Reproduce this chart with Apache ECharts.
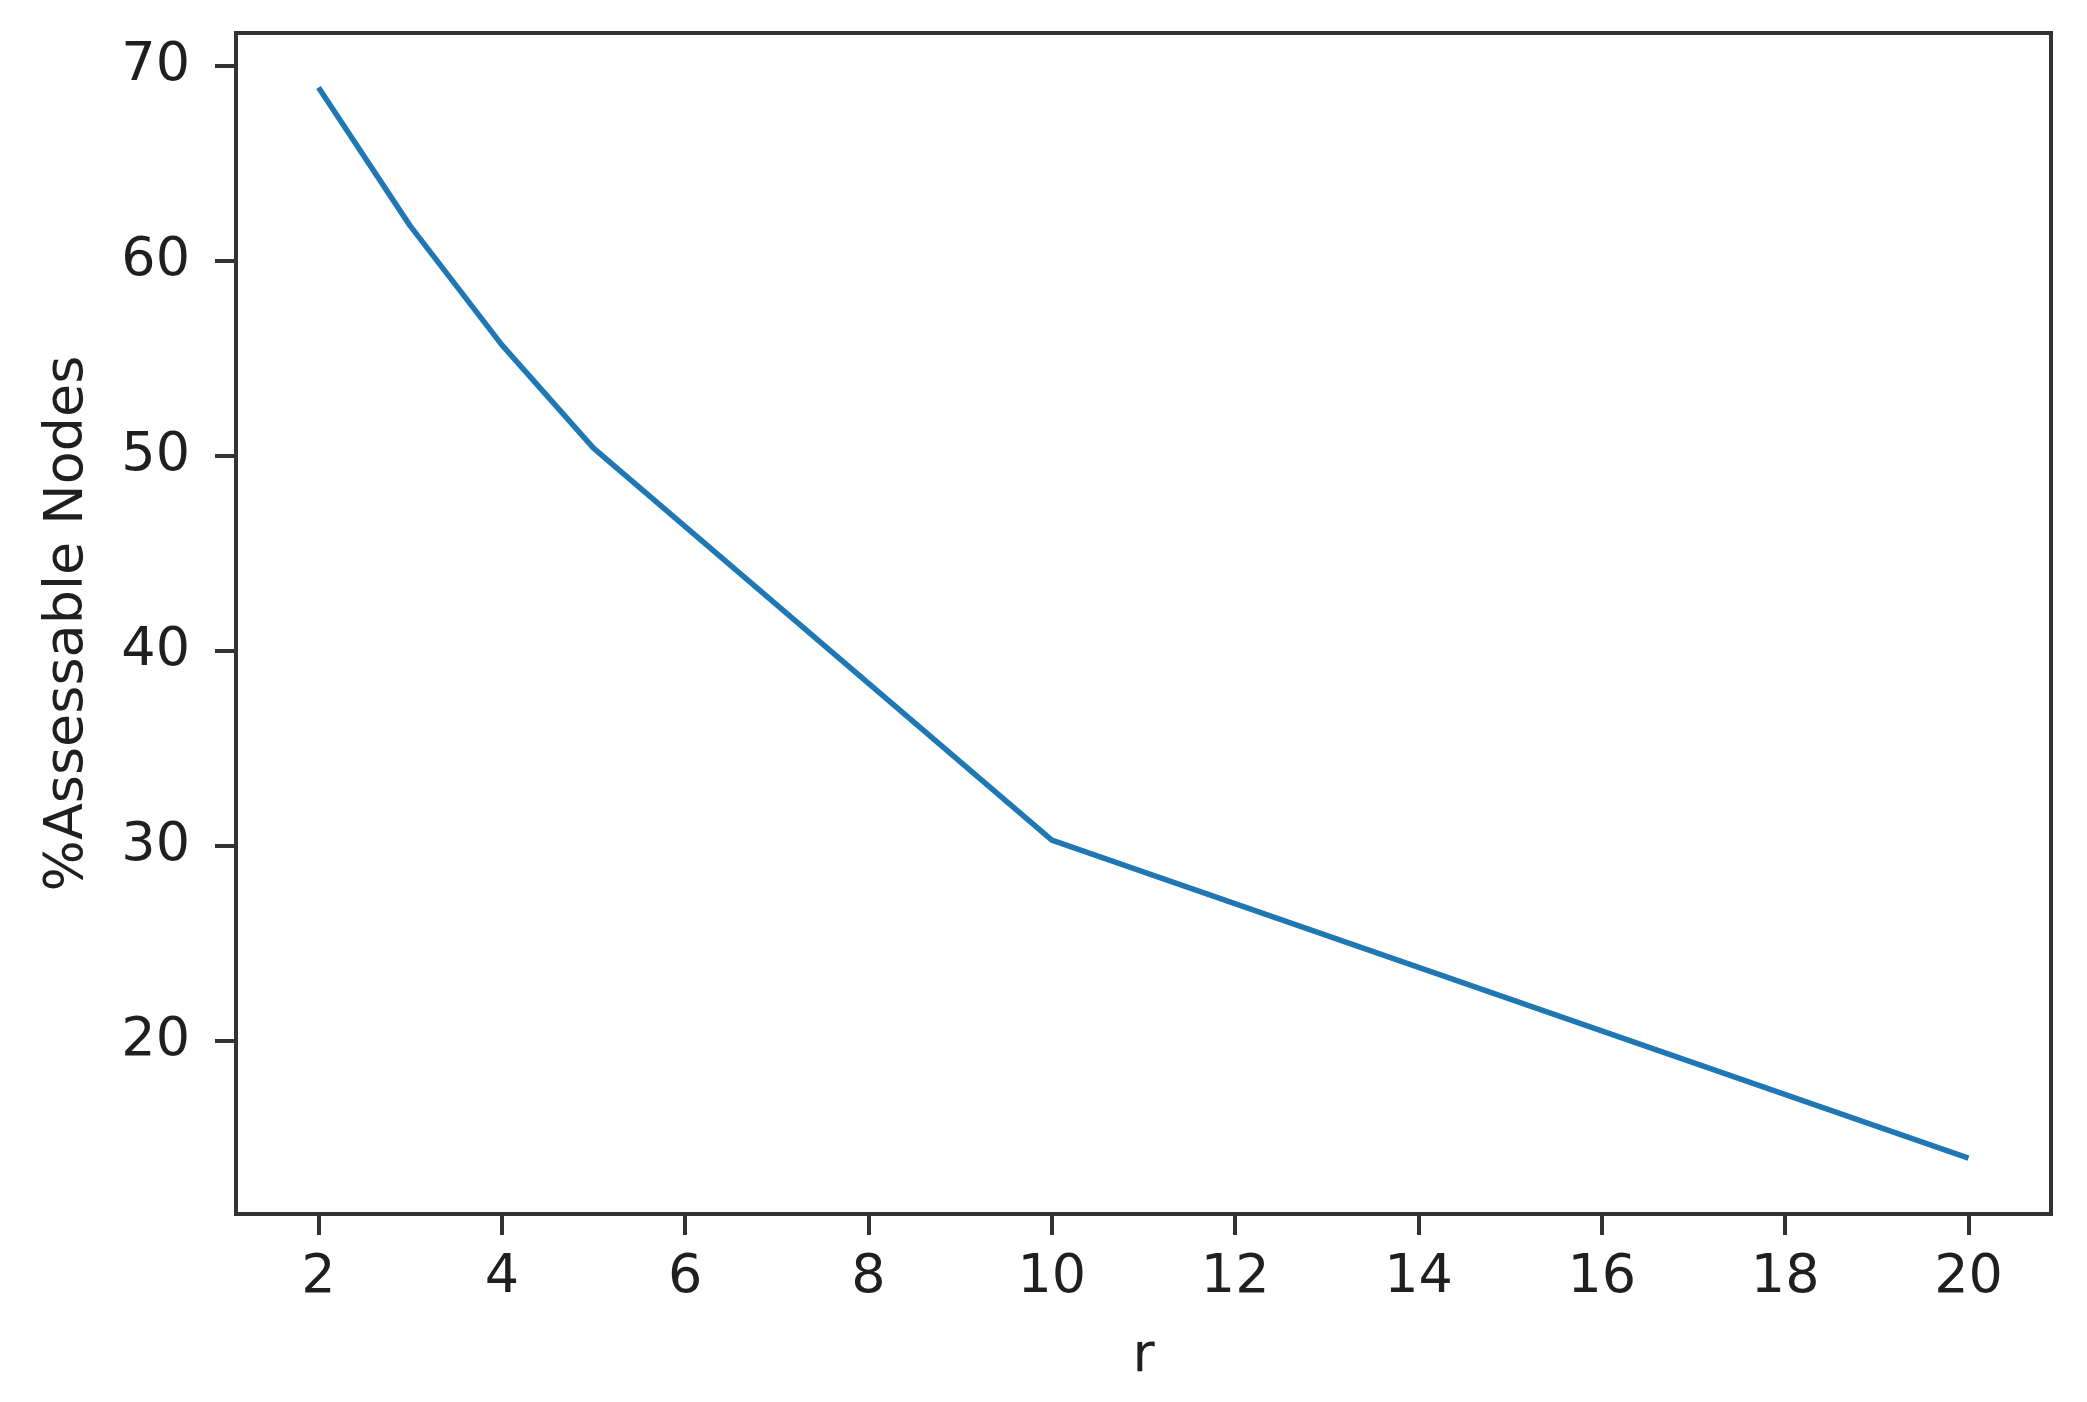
<!DOCTYPE html>
<html>
<head>
<meta charset="utf-8">
<title>%Assessable Nodes vs r</title>
<script src="https://cdn.jsdelivr.net/npm/echarts@6/dist/echarts.min.js"></script>
<style>
  html, body { margin: 0; padding: 0; background: #fff; }
  #chart { width: 2087px; height: 1402px; }
</style>
</head>
<body>
<div id="chart"></div>
<script>
// values
const rValues = [2, 3, 4, 5, 10, 20];
const assessable = [68.9, 61.8, 55.7, 50.4, 30.3, 14.0];

// tick labels
const xTicks = [2, 4, 6, 8, 10, 12, 14, 16, 18, 20];
const yTicks = [20, 30, 40, 50, 60, 70];

const FONT = 'DejaVu Sans';
const INK = '#333';
const TEXT = '#1f1f1f';

const chart = echarts.init(document.getElementById('chart'));

const axisCommon = {
  type: 'value',
  axisLine: { show: true, lineStyle: { color: INK, width: 4 } },
  splitLine: { show: false },
  nameTextStyle: { fontFamily: FONT, fontSize: 54, color: TEXT }
};

chart.setOption({
  backgroundColor: '#fff',
  animation: false,
  grid: {
    left: 236, right: 36, top: 33, bottom: 188,
    show: true, borderColor: INK, borderWidth: 4,
    outerBoundsMode: 'none'
  },
  xAxis: {
    ...axisCommon,
    min: 1.1,
    max: 20.9,
    name: 'r',
    nameLocation: 'middle',
    nameGap: 116,
    axisTick: { show: true, length: 21, lineStyle: { color: INK, width: 4 }, customValues: xTicks },
    axisLabel: { customValues: xTicks, margin: 37, fontFamily: FONT, fontSize: 54, color: TEXT }
  },
  yAxis: {
    ...axisCommon,
    min: 11.13,
    max: 71.69,
    name: '%Assessable Nodes',
    nameLocation: 'middle',
    nameGap: 141,
    axisTick: { show: true, length: 21, lineStyle: { color: INK, width: 4 }, customValues: yTicks },
    axisLabel: { customValues: yTicks, margin: 46, fontFamily: FONT, fontSize: 54, color: TEXT }
  },
  series: [{
    type: 'line',
    data: rValues.map((r, i) => [r, assessable[i]]),
    showSymbol: false,
    lineStyle: { color: '#1f77b4', width: 5.5 },
    itemStyle: { color: '#1f77b4' }
  }]
});
</script>
</body>
</html>
